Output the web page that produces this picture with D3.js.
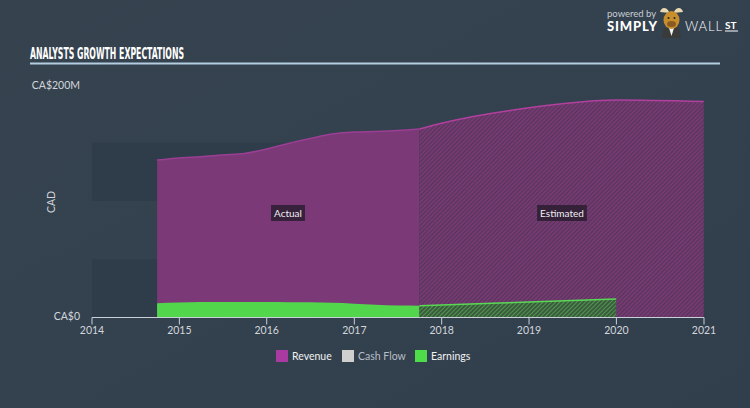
<!DOCTYPE html>
<html><head><meta charset="utf-8">
<script src="https://cdn.jsdelivr.net/npm/d3@7"></script>
<style>html,body{margin:0;padding:0;background:#33414f;}svg{display:block;}</style>
</head><body>
<svg id="c" width="750" height="408"></svg>
<script>
// ---- data (CA$ millions) ----
const revenueActualDates = ["2014-09-30","2014-12-31","2015-03-31","2015-06-30","2015-09-30","2015-12-31","2016-03-31","2016-06-30","2016-09-30","2016-12-31","2017-03-31","2017-06-30","2017-09-30"];
const revenueActual = [135.2,137.0,138.0,139.5,140.8,144.6,149.4,153.6,157.5,159.2,159.7,160.5,161.8];
const revenueEstDates = ["2017-09-30","2017-12-31","2018-12-31","2019-12-31","2020-12-31"];
const revenueEst = [161.8,166.8,180.0,186.7,185.4];
const earningsActualDates = revenueActualDates;
const earningsActual = [12.2,12.8,13.2,13.3,13.3,13.2,13.1,13.0,12.6,11.9,11.0,10.2,10.1];
const earningsEstDates = ["2017-09-30","2017-12-31","2018-12-31","2019-12-31"];
const earningsEst = [10.1,10.7,13.3,15.9];
const yearTicks = [2014,2015,2016,2017,2018,2019,2020,2021];
const yTickValues = [0,200];
const yTickLabels = ["CA$0","CA$200M"];
const legendItems = ["Revenue","Cash Flow","Earnings"];
const bandRanges = [[0,50],[100,150]];

const svg = d3.select("#c");
const W = 750, H = 408;
const parse = d3.timeParse("%Y-%m-%d");
const x = d3.scaleTime().domain([new Date(2014,0,1), new Date(2021,0,1)]).range([92,704]);
const y = d3.scaleLinear().domain([0,200]).range([317.5,84.5]);

const defs = svg.append("defs");
const bg = defs.append("linearGradient").attr("id","bg").attr("x1",0).attr("y1",0).attr("x2",1).attr("y2",1);
bg.append("stop").attr("offset","0%").attr("stop-color","#36434f");
bg.append("stop").attr("offset","100%").attr("stop-color","#313f4d");
svg.append("rect").attr("width",W).attr("height",H).attr("fill","url(#bg)");

// hatch patterns
const pr = defs.append("pattern").attr("id","hatchR").attr("patternUnits","userSpaceOnUse").attr("width",3).attr("height",3).attr("patternTransform","rotate(45)");
pr.append("rect").attr("width",3).attr("height",3).attr("fill","#753a72");
pr.append("line").attr("x1",0).attr("y1",0).attr("x2",0).attr("y2",3).attr("stroke","#3f3148").attr("stroke-width",1.2);
const pg = defs.append("pattern").attr("id","hatchG").attr("patternUnits","userSpaceOnUse").attr("width",3).attr("height",3).attr("patternTransform","rotate(45)");
pg.append("rect").attr("width",3).attr("height",3).attr("fill","#3c5a3e");
pg.append("line").attr("x1",0).attr("y1",0).attr("x2",0).attr("y2",3).attr("stroke","#5ac458").attr("stroke-width",1.2);

// bands
svg.selectAll("rect.band").data(bandRanges).enter().append("rect").attr("class","band")
  .attr("x",x.range()[0]).attr("width",x.range()[1]-x.range()[0])
  .attr("y",d=>y(d[1])).attr("height",d=>y(d[0])-y(d[1])).attr("fill","#2f3c49");

const mk = (dates, vals) => dates.map((d,i)=>({date:parse(d), v:vals[i]}));
const rA = mk(revenueActualDates, revenueActual), rE = mk(revenueEstDates, revenueEst);
const eA = mk(earningsActualDates, earningsActual), eE = mk(earningsEstDates, earningsEst);

const area = d3.area().x(d=>x(d.date)).y0(y(0)).y1(d=>y(d.v)).curve(d3.curveMonotoneX);
const line = d3.line().x(d=>x(d.date)).y(d=>y(d.v)).curve(d3.curveMonotoneX);

svg.append("path").datum(rA).attr("d",area).attr("fill","#7b3977");
svg.append("path").datum(rA).attr("d",line).attr("fill","none").attr("stroke","#9a3f93").attr("stroke-width",1.5);
svg.append("path").datum(rE).attr("d",area).attr("fill","url(#hatchR)");
svg.append("path").datum(rE).attr("d",line).attr("fill","none").attr("stroke","#b2409f").attr("stroke-width",1.5);

svg.append("path").datum(eA).attr("d",area).attr("fill","#52d64c");
svg.append("path").datum(eE).attr("d",area).attr("fill","url(#hatchG)");
svg.append("path").datum(eE).attr("d",line).attr("fill","none").attr("stroke","#5ad855").attr("stroke-width",1.5);

// x axis
const axisG = svg.append("g").attr("transform",`translate(0,${y(0)})`);
axisG.append("line").attr("x1",x.range()[0]).attr("x2",x.range()[1]).attr("stroke","#c9d0d8").attr("stroke-width",1);
const tk = axisG.selectAll("g.t").data(yearTicks).enter().append("g").attr("transform",d=>`translate(${x(new Date(d,0,1))},0)`);
tk.append("line").attr("y1",0).attr("y2",7).attr("stroke","#c9d0d8");
tk.append("text").attr("y",16).attr("text-anchor","middle").attr("fill","#d2d6db")
  .style("font-family","Lato, 'Noto Sans', sans-serif").style("font-size","10.5px").text(d=>d);

// y labels
svg.selectAll("text.yl").data(yTickValues).enter().append("text").attr("class","yl")
  .attr("x",80).attr("y",d=>y(d)+(d===0?2:4)).attr("text-anchor","end").attr("fill","#d2d6db")
  .style("font-family","Lato, 'Noto Sans', sans-serif").style("font-size","10.5px").text((d,i)=>yTickLabels[i]);
svg.append("text").attr("transform","translate(55,202) rotate(-90)").attr("text-anchor","middle").attr("fill","#d2d6db")
  .style("font-family","Lato, 'Noto Sans', sans-serif").style("font-size","10.5px").text("CAD");

// Actual / Estimated labels
function tag(cx, cy, txt){
  const g = svg.append("g");
  const t = g.append("text").attr("x",cx).attr("y",cy+3.5).attr("text-anchor","middle").attr("fill","#f0eef2")
    .style("font-family","Lato, 'Noto Sans', sans-serif").style("font-size","10px").text(txt);
  const b = t.node().getBBox();
  g.insert("rect","text").attr("x",b.x-3).attr("y",cy-8).attr("width",b.width+6).attr("height",16).attr("fill","#2c1d30").attr("opacity",0.85);
}
tag(288,213,"Actual");
tag(562,213,"Estimated");

// title
svg.append("text").attr("x",30).attr("y",59).attr("fill","#ffffff")
  .style("font-family","'Liberation Sans Narrow', 'DejaVu Sans Condensed', sans-serif").style("font-weight","bold").style("font-size","16px")
  .attr("textLength",154).attr("lengthAdjust","spacingAndGlyphs").text("ANALYSTS GROWTH EXPECTATIONS");
svg.append("line").attr("x1",30).attr("x2",720).attr("y1",63.5).attr("y2",63.5).attr("stroke","#b4cde0").attr("stroke-width",2);

// legend
const legColors = ["#a93aa2","#cfcfcf","#4fdc4a"];
const legX = [276,342,415];
const lg = svg.selectAll("g.lg").data(legendItems).enter().append("g").attr("transform",(d,i)=>`translate(${legX[i]},350)`);
lg.append("rect").attr("width",12).attr("height",12).attr("fill",(d,i)=>legColors[i]);
lg.append("text").attr("x",16).attr("y",10).attr("fill",(d,i)=>i===1?"#b8bec6":"#f2f2f2")
  .style("font-family","Lato, 'Noto Sans', sans-serif").style("font-size","10.5px").text(d=>d);

// logo
const logo = svg.append("g");
logo.append("text").attr("x",607).attr("y",17).attr("fill","#c9ced4").style("font-family","Lato, sans-serif").style("font-size","9.5px").text("powered by");
logo.append("text").attr("x",607).attr("y",31).attr("fill","#ffffff").style("font-family","Lato, sans-serif").style("font-weight","900").style("font-size","13px").attr("textLength",50).text("SIMPLY");
logo.append("text").attr("x",685).attr("y",31).attr("fill","#ffffff").style("font-family","Lato, sans-serif").style("font-weight","300").style("font-size","13px").attr("textLength",37).text("WALL");
logo.append("text").attr("x",725).attr("y",29).attr("fill","#ffffff").style("font-family","Lato, sans-serif").style("font-weight","700").style("font-size","10px").text("ST");
logo.append("line").attr("x1",725).attr("x2",738).attr("y1",31).attr("y2",31).attr("stroke","#ffffff").attr("stroke-width",1);
// mascot
logo.append("path").attr("d","M660 12 Q662 6 667 9 L670 13 Z").attr("fill","#e9d9b0");
logo.append("path").attr("d","M683 12 Q681 6 676 9 L673 13 Z").attr("fill","#e9d9b0");
logo.append("path").attr("d","M662 38 L664 28 L679 28 L681 38 Z").attr("fill","#3a3a3a");
logo.append("path").attr("d","M669 28 L671.5 36 L674 28 Z").attr("fill","#f2f2f2");
logo.append("ellipse").attr("cx",671.5).attr("cy",20).attr("rx",8).attr("ry",9).attr("fill","#c88e2c");
logo.append("ellipse").attr("cx",671.5).attr("cy",24).attr("rx",4.5).attr("ry",3).attr("fill","#8a5a22");
logo.append("circle").attr("cx",668.5).attr("cy",18).attr("r",1).attr("fill","#222");
logo.append("circle").attr("cx",674.5).attr("cy",18).attr("r",1).attr("fill","#222");
</script>
</body></html>
